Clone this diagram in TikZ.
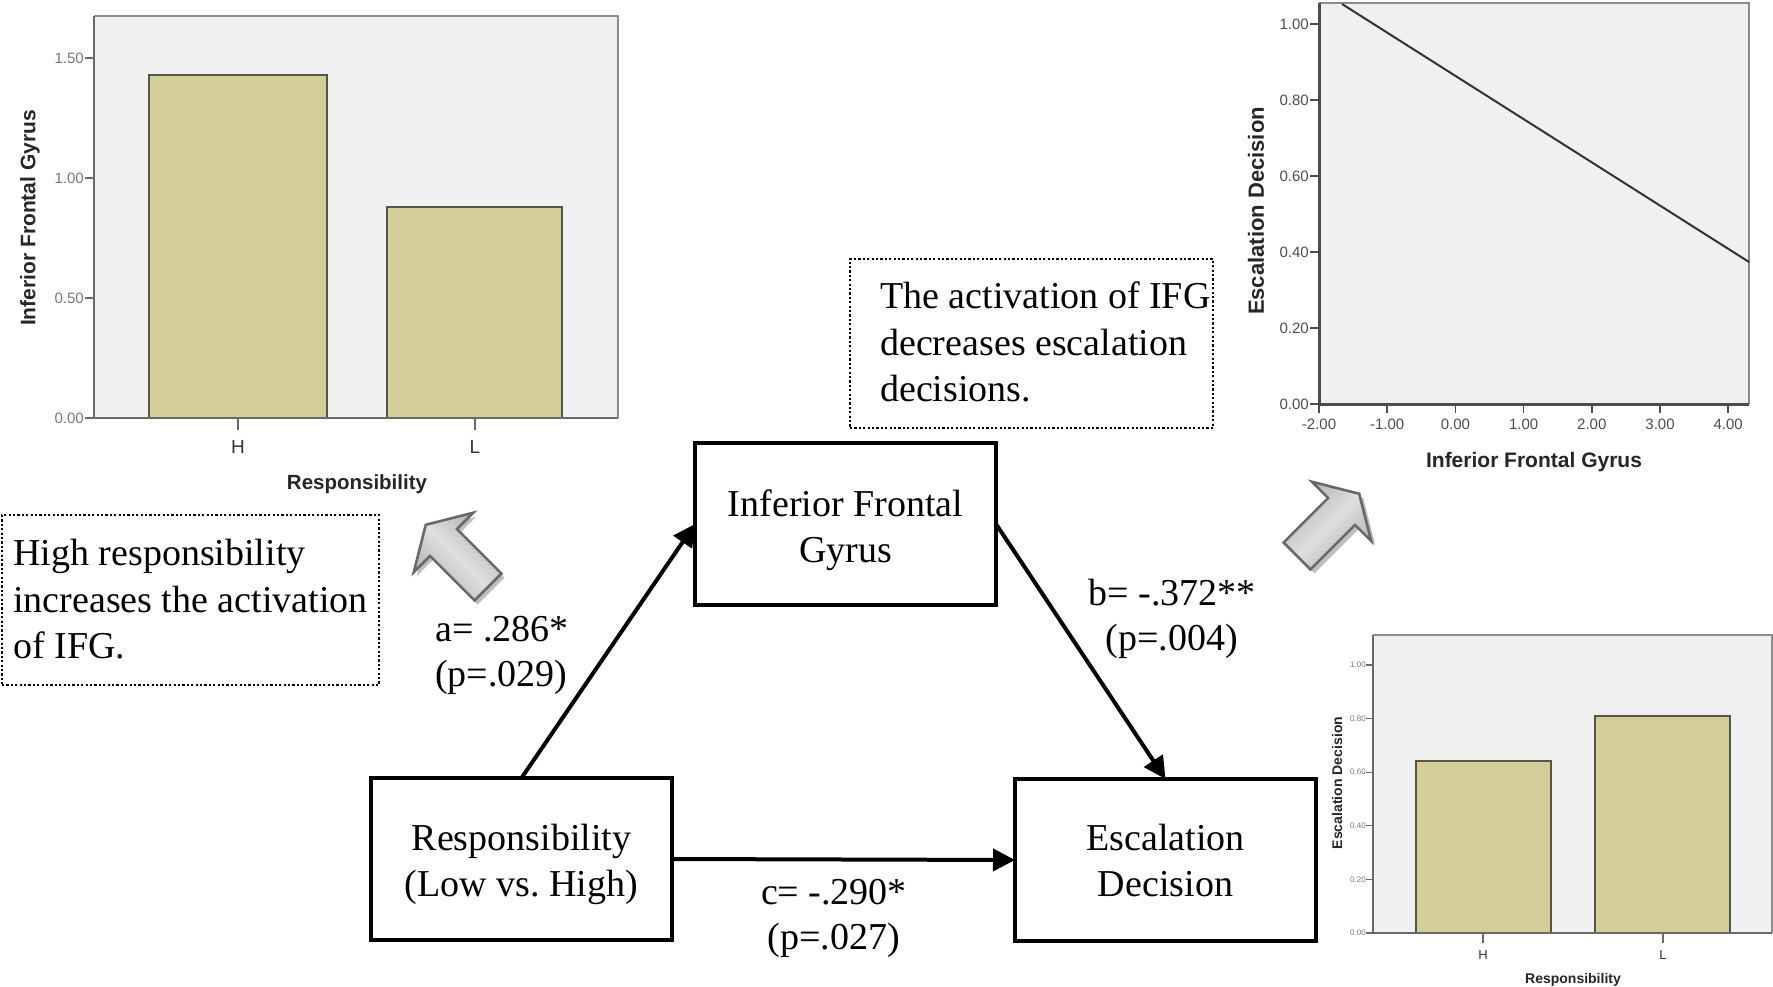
\documentclass[tikz,border=0pt]{standalone}
\usepackage{fontspec}
\setmainfont{Liberation Serif}
\newfontfamily\arialf{Liberation Sans}
\usetikzlibrary{arrows.meta}
\frenchspacing
\definecolor{plotbg}{RGB}{240,240,240}
\definecolor{barfill}{RGB}{211,206,151}
\definecolor{baredge}{RGB}{85,85,70}
\definecolor{frame}{RGB}{140,140,140}
\definecolor{axisgray}{RGB}{105,105,105}
\definecolor{ticklbl}{RGB}{120,120,120}
\definecolor{arrowedge}{RGB}{105,105,105}
\definecolor{arrowshadow}{RGB}{190,190,190}
\begin{document}
\begin{tikzpicture}[x=1pt,y=-1pt,
  mainbox/.style={draw=black, line width=3.3pt, minimum width=301pt, minimum height=162pt,
    anchor=north west, align=center, outer sep=0pt, inner sep=0pt,
    font=\fontsize{38}{46}\selectfont},
  notebox/.style={draw=black, line width=2.4pt, dash pattern=on 2.2pt off 2.2pt,
    anchor=north west, outer sep=0pt, inner sep=0pt},
  notetext/.style={anchor=north west, align=left, inner sep=0pt,
    font=\fontsize{38}{46.5}\selectfont},
  coeff/.style={inner sep=0pt, font=\fontsize{38}{45}\selectfont},
  arr/.style={line width=4pt, -{Triangle[length=22pt,width=22pt]}},
  bar/.style={draw=baredge, fill=barfill, line width=1.8pt},
  ticklab/.style={inner sep=0pt, text=ticklbl, font=\arialf\fontsize{15}{15}\selectfont},
  catlab/.style={inner sep=0pt, text=black!80, font=\arialf\fontsize{19}{19}\selectfont},
  axtitle/.style={inner sep=0pt, text=black!85, font=\arialf\bfseries\fontsize{20.5}{20.5}\selectfont},
  blockarr/.pic={
    \draw[arrowedge, line width=2.6pt, line join=miter, top color=gray!62,
      bottom color=gray!62, middle color=gray!25, shading angle=#1]
      (0,19) -- (63,19) -- (63,42) -- (88,0) -- (63,-42) -- (63,-19) -- (0,-19) -- cycle;},
  blockshadow/.pic={
    \fill[arrowshadow] (0,19) -- (63,19) -- (63,42) -- (88,0) -- (63,-42) -- (63,-19) -- (0,-19) -- cycle;}
]
\useasboundingbox (0,0) rectangle (1773,987);

% ---------------- top-left chart ----------------
\fill[plotbg] (94,16) rectangle (618,418);
\draw[frame, line width=2pt] (94,16) -- (618,16) -- (618,418);
\draw[bar] (149,418) rectangle (327,75);
\draw[bar] (387,418) rectangle (562,207);
\draw[axisgray, line width=2.5pt] (94,16) -- (94,418) -- (618,418);
\foreach \v/\l [count=\i] in {0/0.00,0.5/0.50,1/1.00,1.5/1.50}{
  \draw[axisgray, line width=1.6pt] (85,{418-240*\v}) -- (94,{418-240*\v});
  \node[ticklab, anchor=east] (tla\i) at (84,{418-240*\v}) {\l};
}
\foreach \x/\l [count=\i] in {238/H,475/L}{
  \draw[axisgray, line width=1.6pt] (\x,418) -- (\x,430);
  \node[catlab] (tlc\i) at (\x,447) {\l};
}
\node[axtitle] (tlx) at (357,484) {Responsibility};
\node[axtitle, font=\arialf\bfseries\fontsize{21}{21}\selectfont, rotate=90] (tly) at (30,218) {Inferior Frontal Gyrus};

% ---------------- top-right chart ----------------
\fill[plotbg] (1319,3) rectangle (1749,404);
\draw[frame, line width=2pt] (1319,3) -- (1749,3) -- (1749,404);
\draw[black!80, line width=2pt] (1342,4) -- (1749,262);
\draw[black!70, line width=3pt] (1319,3) -- (1319,404) -- (1749,404);
\foreach \v/\l [count=\i] in {0/0.00,0.2/0.20,0.4/0.40,0.6/0.60,0.8/0.80,1/1.00}{
  \draw[black!70, line width=1.6pt] (1310,{404-380*\v}) -- (1319,{404-380*\v});
  \node[ticklab, text=black!70, anchor=east] (tra\i) at (1309,{404-380*\v}) {\l};
}
\foreach \k/\l [count=\i] in {0/-2.00,1/-1.00,2/0.00,3/1.00,4/2.00,5/3.00,6/4.00}{
  \draw[black!70, line width=1.6pt] ({1319+68.2*\k},404) -- ({1319+68.2*\k},413);
  \node[ticklab, text=black!70] (trb\i) at ({1319+68.2*\k},424) {\l};
}
\node[axtitle, font=\arialf\bfseries\fontsize{21}{21}\selectfont] (trx) at (1534,462) {Inferior Frontal Gyrus};
\node[axtitle, font=\arialf\bfseries\fontsize{22}{22}\selectfont, rotate=90] (try) at (1256,211) {Escalation Decision};

% ---------------- bottom-right chart ----------------
\fill[plotbg] (1373,635) rectangle (1772,933);
\draw[frame, line width=2pt] (1373,635) -- (1772,635) -- (1772,933);
\draw[bar] (1416,933) rectangle (1551,761);
\draw[bar] (1595,933) rectangle (1730,716);
\draw[axisgray, line width=2.2pt] (1373,635) -- (1373,933) -- (1772,933);
\foreach \v/\l [count=\i] in {0/0.00,0.2/0.20,0.4/0.40,0.6/0.60,0.8/0.80,1/1.00}{
  \draw[axisgray, line width=1.2pt] (1366,{933-268*\v}) -- (1373,{933-268*\v});
  \node[ticklab, anchor=east, font=\arialf\fontsize{8}{8}\selectfont] (bra\i) at (1366,{933-268*\v}) {\l};
}
\foreach \x/\l [count=\i] in {1483/H,1663/L}{
  \draw[axisgray, line width=1.4pt] (\x,933) -- (\x,943);
  \node[catlab, font=\arialf\fontsize{13}{13}\selectfont] (brc\i) at (\x,955) {\l};
}
\node[axtitle, font=\arialf\bfseries\fontsize{14}{14}\selectfont] (brx) at (1573,980) {Responsibility};
\node[axtitle, font=\arialf\bfseries\fontsize{14}{14}\selectfont, rotate=90] (bry) at (1337,783) {Escalation Decision};

% ---------------- note boxes ----------------
\node[notebox, minimum width=377pt, minimum height=170pt] (noteL) at (2,515) {};
\node[notetext] (noteLtxt) at (13,539) {High responsibility\\increases the activation\\of IFG.};
\node[notebox, minimum width=363pt, minimum height=169pt] (noteR) at (850,259) {};
\node[notetext] (noteRtxt) at (880,282) {The activation of IFG\\decreases escalation\\decisions.};

% ---------------- block arrows ----------------
\pic[rotate=135] at (491,591) {blockshadow};
\pic[rotate=135] at (488,587) {blockarr=-45};
\pic[rotate=45] at (1301,560) {blockshadow};
\pic[rotate=45] at (1297,556) {blockarr=45};

% ---------------- mediation model ----------------
\node[mainbox] (ifg) at (695,443) {\rule{0pt}{40pt}Inferior Frontal\\Gyrus};
\node[mainbox] (resp) at (371,778) {\rule{0pt}{38pt}Responsibility\\(Low vs. High)};
\node[mainbox] (esc) at (1015,779) {\rule{0pt}{28pt}Escalation\\Decision};

\draw[arr] (resp.north) -- (ifg.west);
\draw[arr] (ifg.east) -- (esc.north);
\draw[arr] (resp.east) -- (esc.west);

\node[coeff, anchor=north west, align=left] (alab) at (435,616) {a= .286*\\(p=.029)};
\node[coeff, anchor=north, align=center] (blab) at (1172,579) {b= -.372**\\(p=.004)};
\node[coeff, anchor=north, align=center] (clab) at (834,879) {c= -.290*\\(p=.027)};
\end{tikzpicture}
\end{document}
